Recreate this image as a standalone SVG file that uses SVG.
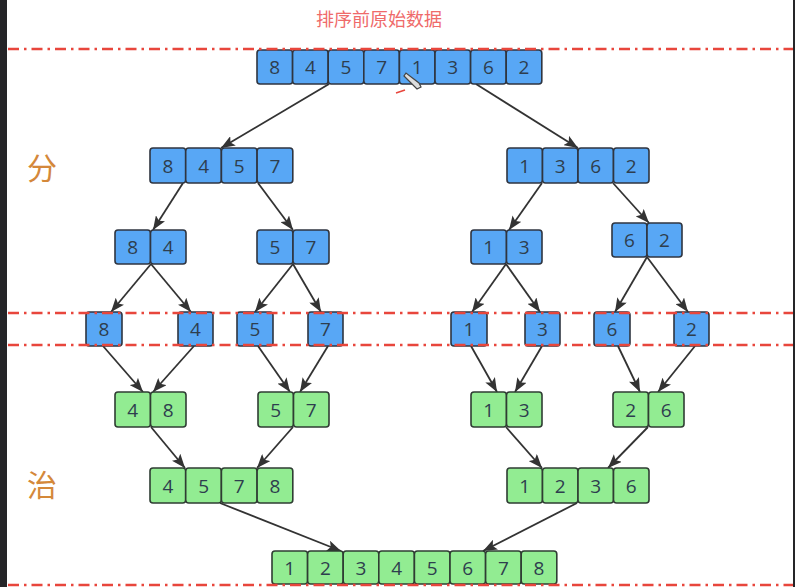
<svg xmlns="http://www.w3.org/2000/svg" width="795" height="587" viewBox="0 0 795 587">
<defs>
<style>
.b rect{fill:#58a7f5;stroke:#2f3540;stroke-width:1.6}
.g rect{fill:#92ec92;stroke:#2f3d33;stroke-width:1.6}
text.n{font-family:"Open Sans","Liberation Sans",sans-serif;font-size:19px;fill:#2e3e4e;text-anchor:middle}
.c line{stroke:#333;stroke-width:1.8}
.r{stroke:#e8463c;stroke-width:2.4;stroke-dasharray:11 5 2.5 5;fill:none}
.lab{font-family:"Noto Sans CJK SC",sans-serif;font-size:30px;fill:#d4883a;text-anchor:middle}
</style>
<marker id="ah" viewBox="0 0 14 11" refX="14" refY="5.5" markerWidth="14" markerHeight="11" markerUnits="userSpaceOnUse" orient="auto">
<path d="M0,0 L14,5.5 L0,11 L3,5.5 Z" fill="#333"/>
</marker>
</defs>
<rect width="795" height="587" fill="#fff"/>
<rect x="0" y="0" width="7" height="587" fill="#252528"/>
<rect x="793" y="0" width="2" height="587" fill="#252528"/>
<text x="379" y="26" font-family="Noto Sans CJK SC,sans-serif" font-size="18" fill="#ef6a6a" text-anchor="middle">排序前原始数据</text>
<text class="lab" x="42" y="179">分</text>
<text class="lab" x="42" y="496">治</text>

<g id="connectors" class="c">
<line x1="329" y1="84" x2="221" y2="148" marker-end="url(#ah)"/>
<line x1="476" y1="84" x2="578" y2="148" marker-end="url(#ah)"/>
<line x1="183" y1="183" x2="153" y2="230" marker-end="url(#ah)"/>
<line x1="258" y1="183" x2="293" y2="230" marker-end="url(#ah)"/>
<line x1="542" y1="183" x2="509" y2="230" marker-end="url(#ah)"/>
<line x1="613" y1="183" x2="649" y2="223" marker-end="url(#ah)"/>
<line x1="151" y1="264" x2="111" y2="312" marker-end="url(#ah)"/>
<line x1="151" y1="264" x2="191" y2="312" marker-end="url(#ah)"/>
<line x1="293" y1="264" x2="255" y2="312" marker-end="url(#ah)"/>
<line x1="293" y1="264" x2="321" y2="312" marker-end="url(#ah)"/>
<line x1="506" y1="264" x2="472" y2="312" marker-end="url(#ah)"/>
<line x1="506" y1="264" x2="540" y2="312" marker-end="url(#ah)"/>
<line x1="647" y1="257" x2="615" y2="312" marker-end="url(#ah)"/>
<line x1="647" y1="257" x2="688" y2="312" marker-end="url(#ah)"/>
<line x1="103" y1="346" x2="143" y2="392" marker-end="url(#ah)"/>
<line x1="194" y1="346" x2="153" y2="392" marker-end="url(#ah)"/>
<line x1="258" y1="346" x2="290" y2="392" marker-end="url(#ah)"/>
<line x1="328" y1="346" x2="300" y2="392" marker-end="url(#ah)"/>
<line x1="471" y1="346" x2="497" y2="392" marker-end="url(#ah)"/>
<line x1="542" y1="346" x2="515" y2="392" marker-end="url(#ah)"/>
<line x1="618" y1="346" x2="640" y2="392" marker-end="url(#ah)"/>
<line x1="695" y1="346" x2="658" y2="392" marker-end="url(#ah)"/>
<line x1="151" y1="427" x2="185" y2="468" marker-end="url(#ah)"/>
<line x1="293" y1="427" x2="257" y2="468" marker-end="url(#ah)"/>
<line x1="506" y1="427" x2="542" y2="468" marker-end="url(#ah)"/>
<line x1="648" y1="427" x2="608" y2="468" marker-end="url(#ah)"/>
<line x1="220" y1="503" x2="341" y2="551" marker-end="url(#ah)"/>
<line x1="577" y1="503" x2="483" y2="551" marker-end="url(#ah)"/>
</g>

<g id="top" class="b">
<rect x="257" y="50" width="35.6" height="34" rx="3"/><rect x="292.6" y="50" width="35.6" height="34" rx="3"/><rect x="328.2" y="50" width="35.6" height="34" rx="3"/><rect x="363.8" y="50" width="35.6" height="34" rx="3"/><rect x="399.4" y="50" width="35.6" height="34" rx="3"/><rect x="435" y="50" width="35.6" height="34" rx="3"/><rect x="470.6" y="50" width="35.6" height="34" rx="3"/><rect x="506.2" y="50" width="35.6" height="34" rx="3"/>
<text class="n" x="274.8" y="74">8</text><text class="n" x="310.4" y="74">4</text><text class="n" x="346" y="74">5</text><text class="n" x="381.6" y="74">7</text><text class="n" x="417.2" y="74">1</text><text class="n" x="452.8" y="74">3</text><text class="n" x="488.4" y="74">6</text><text class="n" x="524" y="74">2</text>
</g>
<g id="cursor">
<path d="M404,76 L417,89 L421,87 L419,83 L406,73 Z" fill="#ddd" stroke="#444" stroke-width="1.2"/>
<line x1="396" y1="93" x2="405" y2="90" stroke="#e8463c" stroke-width="1.5"/>
</g>

<g id="l2a" class="b">
<rect x="150" y="148" width="35.7" height="35" rx="3"/><rect x="185.7" y="148" width="35.7" height="35" rx="3"/><rect x="221.4" y="148" width="35.7" height="35" rx="3"/><rect x="257.1" y="148" width="35.7" height="35" rx="3"/>
<text class="n" x="167.9" y="172.5">8</text><text class="n" x="203.6" y="172.5">4</text><text class="n" x="239.3" y="172.5">5</text><text class="n" x="275" y="172.5">7</text>
</g>
<g id="l2b" class="b">
<rect x="507" y="148" width="35.5" height="35" rx="3"/><rect x="542.5" y="148" width="35.5" height="35" rx="3"/><rect x="578" y="148" width="35.5" height="35" rx="3"/><rect x="613.5" y="148" width="35.5" height="35" rx="3"/>
<text class="n" x="524.8" y="172.5">1</text><text class="n" x="560.3" y="172.5">3</text><text class="n" x="595.8" y="172.5">6</text><text class="n" x="631.3" y="172.5">2</text>
</g>

<g id="l3a" class="b">
<rect x="115" y="230" width="35.5" height="34" rx="3"/><rect x="150.5" y="230" width="35.5" height="34" rx="3"/>
<text class="n" x="132.8" y="254">8</text><text class="n" x="168.3" y="254">4</text>
</g>
<g id="l3b" class="b">
<rect x="257" y="230" width="36" height="34" rx="3"/><rect x="293" y="230" width="36" height="34" rx="3"/>
<text class="n" x="275" y="254">5</text><text class="n" x="311" y="254">7</text>
</g>
<g id="l3c" class="b">
<rect x="471" y="230" width="35.5" height="34" rx="3"/><rect x="506.5" y="230" width="35.5" height="34" rx="3"/>
<text class="n" x="488.8" y="254">1</text><text class="n" x="524.3" y="254">3</text>
</g>
<g id="l3d" class="b">
<rect x="612" y="223" width="35" height="34" rx="3"/><rect x="647" y="223" width="35" height="34" rx="3"/>
<text class="n" x="629.5" y="247">6</text><text class="n" x="664.5" y="247">2</text>
</g>

<g id="l4-8" class="b"><rect x="86" y="312" width="36" height="34" rx="3"/><text class="n" x="104" y="336">8</text></g>
<g id="l4-4" class="b"><rect x="178" y="312" width="35" height="34" rx="3"/><text class="n" x="195.5" y="336">4</text></g>
<g id="l4-5" class="b"><rect x="237" y="312" width="36" height="34" rx="3"/><text class="n" x="255" y="336">5</text></g>
<g id="l4-7" class="b"><rect x="308" y="312" width="35" height="34" rx="3"/><text class="n" x="325.5" y="336">7</text></g>
<g id="l4-1" class="b"><rect x="451" y="312" width="36" height="34" rx="3"/><text class="n" x="469" y="336">1</text></g>
<g id="l4-3" class="b"><rect x="525" y="312" width="35" height="34" rx="3"/><text class="n" x="542.5" y="336">3</text></g>
<g id="l4-6" class="b"><rect x="594" y="312" width="36" height="34" rx="3"/><text class="n" x="612" y="336">6</text></g>
<g id="l4-2" class="b"><rect x="674" y="312" width="35" height="34" rx="3"/><text class="n" x="691.5" y="336">2</text></g>

<g id="l5a" class="g">
<rect x="115" y="392" width="35.5" height="35" rx="3"/><rect x="150.5" y="392" width="35.5" height="35" rx="3"/>
<text class="n" x="132.8" y="416.5">4</text><text class="n" x="168.3" y="416.5">8</text>
</g>
<g id="l5b" class="g">
<rect x="258" y="392" width="35.5" height="35" rx="3"/><rect x="293.5" y="392" width="35.5" height="35" rx="3"/>
<text class="n" x="275.8" y="416.5">5</text><text class="n" x="311.3" y="416.5">7</text>
</g>
<g id="l5c" class="g">
<rect x="471" y="392" width="35.5" height="35" rx="3"/><rect x="506.5" y="392" width="35.5" height="35" rx="3"/>
<text class="n" x="488.8" y="416.5">1</text><text class="n" x="524.3" y="416.5">3</text>
</g>
<g id="l5d" class="g">
<rect x="613" y="392" width="35.5" height="35" rx="3"/><rect x="648.5" y="392" width="35.5" height="35" rx="3"/>
<text class="n" x="630.8" y="416.5">2</text><text class="n" x="666.3" y="416.5">6</text>
</g>

<g id="l6a" class="g">
<rect x="150" y="468" width="35.7" height="35" rx="3"/><rect x="185.7" y="468" width="35.7" height="35" rx="3"/><rect x="221.4" y="468" width="35.7" height="35" rx="3"/><rect x="257.1" y="468" width="35.7" height="35" rx="3"/>
<text class="n" x="167.9" y="492.5">4</text><text class="n" x="203.6" y="492.5">5</text><text class="n" x="239.3" y="492.5">7</text><text class="n" x="275" y="492.5">8</text>
</g>
<g id="l6b" class="g">
<rect x="507" y="468" width="35.5" height="35" rx="3"/><rect x="542.5" y="468" width="35.5" height="35" rx="3"/><rect x="578" y="468" width="35.5" height="35" rx="3"/><rect x="613.5" y="468" width="35.5" height="35" rx="3"/>
<text class="n" x="524.8" y="492.5">1</text><text class="n" x="560.3" y="492.5">2</text><text class="n" x="595.8" y="492.5">3</text><text class="n" x="631.3" y="492.5">6</text>
</g>

<g id="l7" class="g">
<rect x="272" y="551" width="35.6" height="33" rx="3"/><rect x="307.6" y="551" width="35.6" height="33" rx="3"/><rect x="343.2" y="551" width="35.6" height="33" rx="3"/><rect x="378.8" y="551" width="35.6" height="33" rx="3"/><rect x="414.4" y="551" width="35.6" height="33" rx="3"/><rect x="450" y="551" width="35.6" height="33" rx="3"/><rect x="485.6" y="551" width="35.6" height="33" rx="3"/><rect x="521.2" y="551" width="35.6" height="33" rx="3"/>
<text class="n" x="289.8" y="574.5">1</text><text class="n" x="325.4" y="574.5">2</text><text class="n" x="361" y="574.5">3</text><text class="n" x="396.6" y="574.5">4</text><text class="n" x="432.2" y="574.5">5</text><text class="n" x="467.8" y="574.5">6</text><text class="n" x="503.4" y="574.5">7</text><text class="n" x="539" y="574.5">8</text>
</g>

<g id="guides">
<line class="r" x1="8" y1="49" x2="793" y2="49"/>
<line class="r" x1="8" y1="313" x2="793" y2="313"/>
<line class="r" x1="8" y1="345" x2="793" y2="345"/>
<line class="r" x1="8" y1="585" x2="793" y2="585"/>
</g>
</svg>
